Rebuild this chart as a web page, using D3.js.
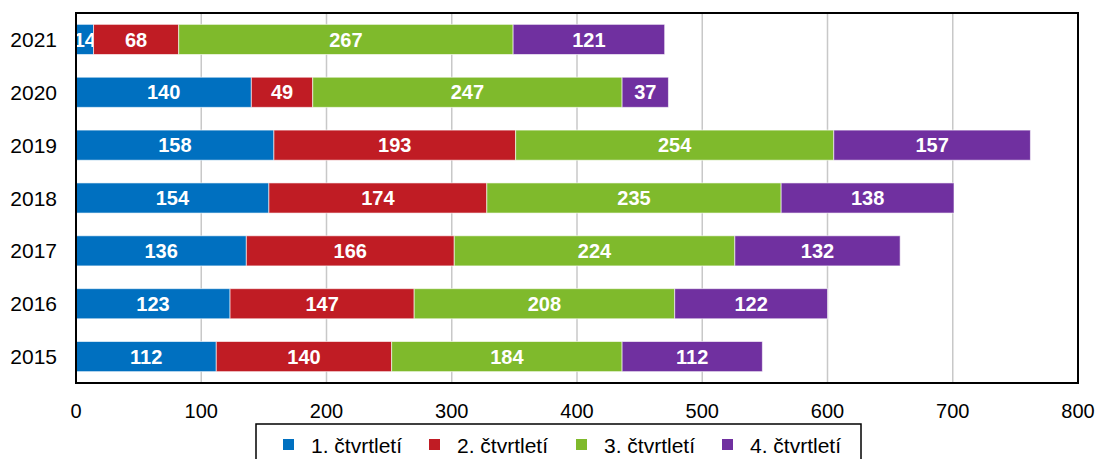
<!DOCTYPE html>
<html>
<head>
<meta charset="utf-8">
<script src="https://cdn.jsdelivr.net/npm/d3@7"></script>
<style>
  body { margin: 0; background: #fff; }
  svg { display: block; font-family: Arial, "Liberation Sans", sans-serif; }
</style>
</head>
<body>
<div id="chart"></div>
<script>
// years, top to bottom
var years = ['2021', '2020', '2019', '2018', '2017', '2016', '2015'];

// values per quarter, same order as years
var q1 = [14, 140, 158, 154, 136, 123, 112];
var q2 = [68, 49, 193, 174, 166, 147, 140];
var q3 = [267, 247, 254, 235, 224, 208, 184];
var q4 = [121, 37, 157, 138, 132, 122, 112];

var seriesNames = ['1. čtvrtletí', '2. čtvrtletí', '3. čtvrtletí', '4. čtvrtletí'];
var colors = ['#0070C0', '#C01C24', '#7FBA2C', '#7030A0'];
var xTicks = [0, 100, 200, 300, 400, 500, 600, 700, 800];

var svgWidth = 1099, svgHeight = 459;
var margin = { top: 13, right: 21, bottom: 76, left: 76 };
var width = svgWidth - margin.left - margin.right;
var height = svgHeight - margin.top - margin.bottom;

var svg = d3.select('#chart').append('svg')
    .attr('width', svgWidth)
    .attr('height', svgHeight);

var g = svg.append('g')
    .attr('transform', `translate(${margin.left},${margin.top})`);

var x = d3.scaleLinear().domain([0, 800]).range([0, width]);
var y = d3.scaleBand().domain(years).range([0, height])
    .paddingInner(0.43).paddingOuter(0.215);

// build stacked table
var table = years.map((yr, i) => ({ year: yr, q1: q1[i], q2: q2[i], q3: q3[i], q4: q4[i] }));
var stack = d3.stack().keys(['q1', 'q2', 'q3', 'q4'])(table);

// grid lines
g.selectAll('.grid')
    .data(xTicks.slice(1, -1))
    .join('line')
    .attr('x1', d => x(d)).attr('x2', d => x(d))
    .attr('y1', 0).attr('y2', height)
    .attr('stroke', '#c8c8c8')
    .attr('stroke-width', 1.5);

// bars
var layers = g.selectAll('.layer')
    .data(stack)
    .join('g')
    .attr('fill', (d, i) => colors[i]);

layers.selectAll('rect')
    .data(d => d)
    .join('rect')
    .attr('x', d => x(d[0]))
    .attr('y', d => y(d.data.year))
    .attr('width', d => x(d[1]) - x(d[0]))
    .attr('height', y.bandwidth())
    .attr('stroke', 'rgba(255,255,255,0.6)')
    .attr('stroke-width', 1);

layers.selectAll('text')
    .data(d => d)
    .join('text')
    .attr('x', d => (x(d[0]) + x(d[1])) / 2)
    .attr('y', d => y(d.data.year) + y.bandwidth() / 2)
    .attr('dy', '0.36em')
    .attr('text-anchor', 'middle')
    .attr('fill', '#fff')
    .attr('font-weight', 'bold')
    .attr('font-size', 20)
    .text(d => d[1] - d[0]);

// frame
g.append('rect')
    .attr('x', 0).attr('y', 0)
    .attr('width', width).attr('height', height)
    .attr('fill', 'none')
    .attr('stroke', '#000')
    .attr('stroke-width', 2);

// y labels
g.selectAll('.ylab')
    .data(years)
    .join('text')
    .attr('x', -19)
    .attr('y', d => y(d) + y.bandwidth() / 2)
    .attr('dy', '0.36em')
    .attr('text-anchor', 'end')
    .attr('font-size', 21)
    .attr('fill', '#000')
    .text(d => d);

// x labels
g.selectAll('.xlab')
    .data(xTicks)
    .join('text')
    .attr('x', d => x(d))
    .attr('y', height + 35)
    .attr('text-anchor', 'middle')
    .attr('font-size', 20)
    .attr('fill', '#000')
    .text(d => d);

// legend
var legend = svg.append('g');
legend.append('rect')
    .attr('x', 256).attr('y', 424)
    .attr('width', 605).attr('height', 50)
    .attr('fill', '#fff')
    .attr('stroke', '#000')
    .attr('stroke-width', 1.5);

var legX = [283, 429, 576, 722];
var items = legend.selectAll('.item')
    .data(seriesNames)
    .join('g')
    .attr('transform', (d, i) => `translate(${legX[i]},0)`);

items.append('rect')
    .attr('x', 0).attr('y', 439)
    .attr('width', 11).attr('height', 11)
    .attr('fill', (d, i) => colors[i]);

items.append('text')
    .attr('x', 28).attr('y', 453)
    .attr('font-size', 21)
    .attr('fill', '#000')
    .text(d => d);
</script>
</body>
</html>
